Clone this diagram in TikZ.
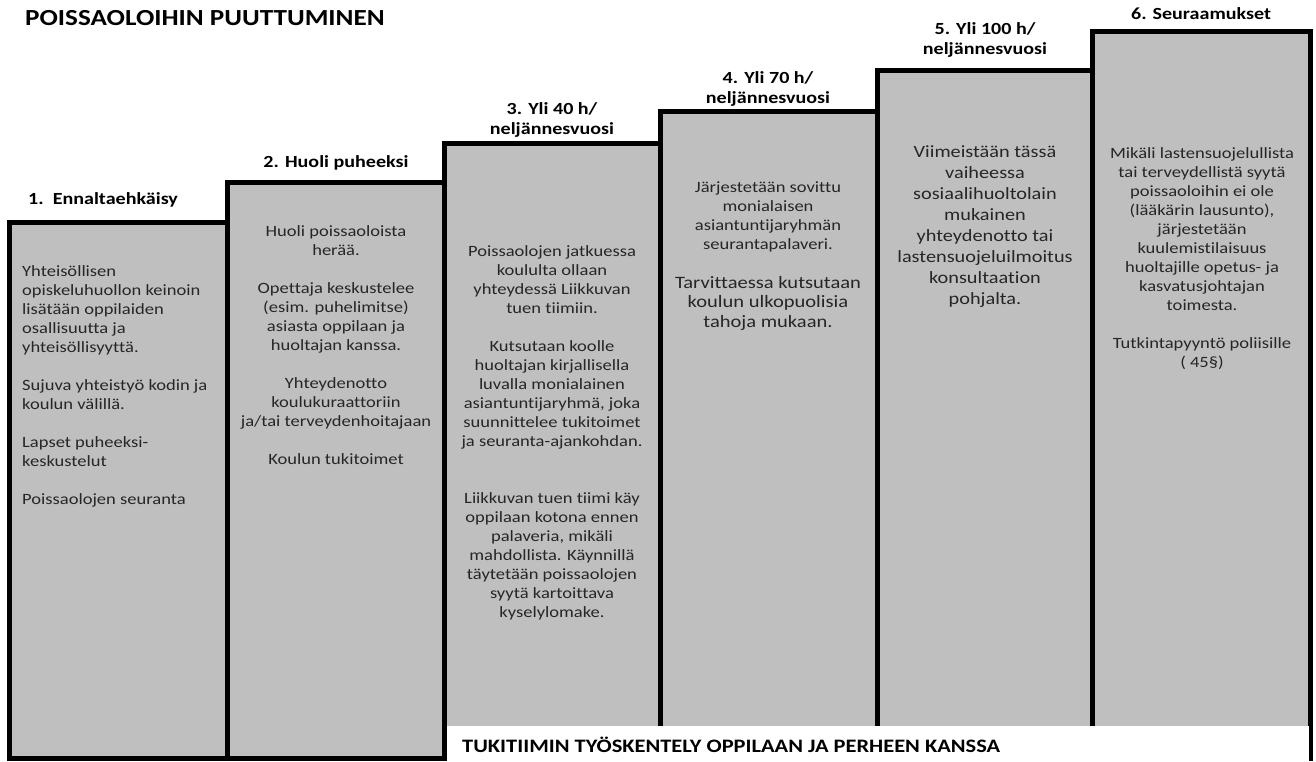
\documentclass[tikz,border=0pt]{standalone}
\usepackage{fontspec}
\setmainfont{Carlito}[FakeStretch=1.18, Ligatures=CommonOff]
\definecolor{boxgray}{HTML}{BFBFBF}
\definecolor{bodytext}{HTML}{262626}
\begin{document}
\begin{tikzpicture}[x=1pt,y=-1pt,
  stepbox/.style={draw=black, line width=5pt, fill=boxgray, outer sep=0pt, inner sep=0pt, anchor=north west},
  body/.style={text=bodytext, font=\fontsize{15.7}{19}\selectfont, align=center, anchor=north, inner sep=0pt},
  bodybig/.style={text=bodytext, font=\fontsize{17.2}{21}\selectfont, align=center, anchor=north, inner sep=0pt},
  steplabel/.style={font=\bfseries\fontsize{17}{20}\selectfont, align=center, anchor=center, inner sep=0pt}]
\useasboundingbox (0,0) rectangle (1316,761);
\fill[white] (0,0) rectangle (1316,761);
% title
\node[font=\bfseries\fontsize{23}{26}\selectfont, anchor=west, inner sep=0pt] (title) at (25,18) {POISSAOLOIHIN PUUTTUMINEN};
% steps
\node[stepbox, minimum width=218pt, minimum height=536pt] (s1) at (9.5,222.5) {};
\node[stepbox, minimum width=217pt, minimum height=576.5pt] (s2) at (227.5,182) {};
\node[stepbox, minimum width=216pt, minimum height=615.5pt] (s3) at (444.5,143) {};
\node[stepbox, minimum width=217pt, minimum height=647.5pt] (s4) at (660.5,111) {};
\node[stepbox, minimum width=215pt, minimum height=688.5pt] (s5) at (877.5,70) {};
\node[stepbox, minimum width=218pt, minimum height=727.5pt] (s6) at (1092.5,31) {};
% labels
\node[steplabel, anchor=west] (l1) at (28,200) {1.\ \ Ennaltaehkäisy};
\node[steplabel] (l2) at (336,163) {2. Huoli puheeksi};
\node[steplabel] (l3) at (552,120) {3. Yli 40 h/\\neljännesvuosi};
\node[steplabel] (l4) at (768,88.5) {4. Yli 70 h/\\neljännesvuosi};
\node[steplabel] (l5) at (985,40) {5. Yli 100 h/\\neljännesvuosi};
\node[steplabel] (l6) at (1201,14) {6. Seuraamukset};
% bodies
\node[body, align=left, anchor=north west] (t1) at (22,265) {Yhteisöllisen\\opiskeluhuollon keinoin\\lisätään oppilaiden\\osallisuutta ja\\yhteisöllisyyttä.\\[19pt]Sujuva yhteistyö kodin ja\\koulun välillä.\\[19pt]Lapset puheeksi-\\keskustelut\\[19pt]Poissaolojen seuranta};
\node[body] (t2) at (336,225) {Huoli poissaoloista\\herää.\\[19pt]Opettaja keskustelee\\(esim. puhelimitse)\\asiasta oppilaan ja\\huoltajan kanssa.\\[19pt]Yhteydenotto\\koulukuraattoriin\\ja/tai terveydenhoitajaan\\[19pt]Koulun tukitoimet};
\node[body] (t3) at (552,245) {Poissaolojen jatkuessa\\koululta ollaan\\yhteydessä Liikkuvan\\tuen tiimiin.\\[19pt]Kutsutaan koolle\\huoltajan kirjallisella\\luvalla monialainen\\asiantuntijaryhmä, joka\\suunnittelee tukitoimet\\ja seuranta-ajankohdan.\\[38pt]Liikkuvan tuen tiimi käy\\oppilaan kotona ennen\\palaveria, mikäli\\mahdollista. Käynnillä\\täytetään poissaolojen\\syytä kartoittava\\kyselylomake.};
\node[body] (t4a) at (768,181) {Järjestetään sovittu\\monialaisen\\asiantuntijaryhmän\\seurantapalaveri.};
\node[bodybig, font=\fontsize{17.4}{19.5}\selectfont] (t4b) at (768,276) {Tarvittaessa kutsutaan\\koulun ulkopuolisia\\tahoja mukaan.};
\node[bodybig] (t5) at (985,145) {Viimeistään tässä\\vaiheessa\\sosiaalihuoltolain\\mukainen\\yhteydenotto tai\\lastensuojeluilmoitus\\konsultaation\\pohjalta.};
\node[body] (t6) at (1202,147) {Mikäli lastensuojelullista\\tai terveydellistä syytä\\poissaoloihin ei ole\\(lääkärin lausunto),\\järjestetään\\kuulemistilaisuus\\huoltajille opetus- ja\\kasvatusjohtajan\\toimesta.\\[19pt]Tutkintapyyntö poliisille\\( 45§)};
% bottom band
\node[fill=white, inner sep=0pt, outer sep=0pt, anchor=north west, minimum width=862pt, minimum height=36pt] (band) at (447,726) {};
\node[font=\bfseries\fontsize{19}{22}\selectfont, anchor=west, inner sep=0pt] (bandtext) at (462,745) {TUKITIIMIN TYÖSKENTELY OPPILAAN JA PERHEEN KANSSA};
\end{tikzpicture}
\end{document}
